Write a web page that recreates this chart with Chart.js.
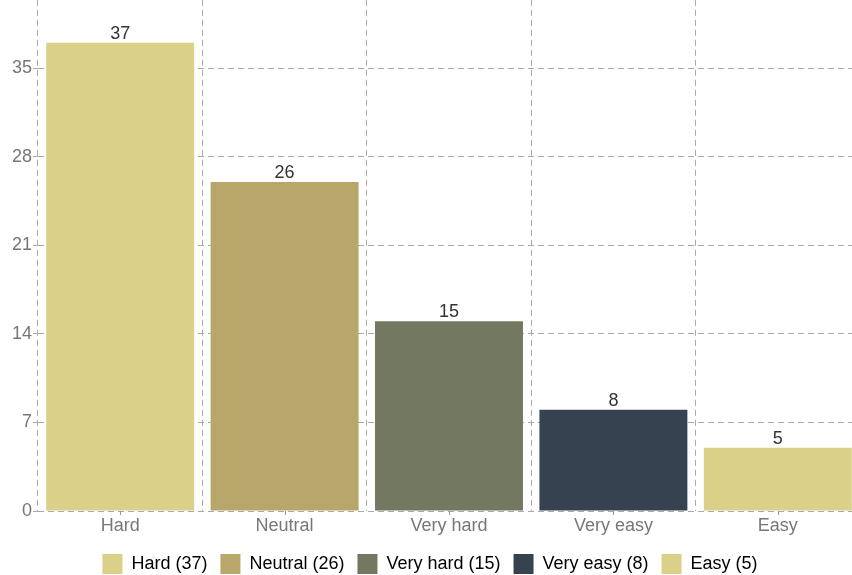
<!DOCTYPE html>
<html lang="en">
<head>
    <meta charset="UTF-8">
    <title>Difficulty</title>
    <script src="https://cdn.jsdelivr.net/npm/chart.js"></script>
    <style>
        body { margin: 0; overflow: hidden; background: white; font-family: "Liberation Sans", Arial, sans-serif; }
        /* o grafico original esta cortado em cima e na direita */
        #box { width: 860px; height: 596px; position: absolute; top: -12px; left: 0; }
    </style>
</head>
<body>
    <div id="box">
        <canvas id="difChart"></canvas>
    </div>

    <script>
        // dados
        const categorias = ['Hard', 'Neutral', 'Very hard', 'Very easy', 'Easy'];
        const valores = [37, 26, 15, 8, 5];
        const cores = ['#dbd088', '#b8a66a', '#737860', '#374250', '#dbd088'];
        const yTicks = [0, 7, 14, 21, 28, 35];

        const fonte = '"Liberation Sans", Arial, sans-serif';

        // rotulos em cima das barras + tracinhos no eixo x
        const extras = {
            id: 'extras',
            afterDatasetsDraw(chart) {
                const ctx = chart.ctx;
                const meta = chart.getDatasetMeta(0);
                ctx.save();
                ctx.fillStyle = '#333';
                ctx.font = '18px ' + fonte;
                ctx.textAlign = 'center';
                ctx.textBaseline = 'alphabetic';
                meta.data.forEach((bar, i) => {
                    ctx.fillText(valores[i], bar.x, bar.y - 4);
                });
                const xs = chart.scales.x;
                const bottom = chart.chartArea.bottom;
                ctx.strokeStyle = '#999';
                ctx.lineWidth = 1;
                categorias.forEach((c, i) => {
                    const px = Math.round(xs.getPixelForValue(i)) + 0.5;
                    ctx.beginPath();
                    ctx.moveTo(px, bottom);
                    ctx.lineTo(px, bottom + 4);
                    ctx.stroke();
                });
                ctx.restore();
            }
        };

        const ctx = document.getElementById('difChart').getContext('2d');
        new Chart(ctx, {
            type: 'bar',
            data: {
                labels: categorias,
                datasets: [{
                    data: valores,
                    backgroundColor: cores,
                    barPercentage: 0.9,
                    categoryPercentage: 1.0
                }]
            },
            options: {
                responsive: true,
                maintainAspectRatio: false,
                animation: false,
                layout: { padding: 0 },
                plugins: {
                    legend: {
                        position: 'bottom',
                        labels: {
                            generateLabels: chart => categorias.map((c, i) => ({
                                text: c + ' (' + valores[i] + ')',
                                fillStyle: cores[i],
                                strokeStyle: cores[i],
                                lineWidth: 0,
                                index: i
                            })),
                            boxWidth: 20,
                            boxHeight: 20,
                            padding: 13,
                            color: '#222',
                            font: { size: 18, family: fonte }
                        }
                    },
                    tooltip: { enabled: false }
                },
                scales: {
                    x: {
                        grid: {
                            offset: true,
                            drawTicks: false,
                            color: '#aaa',
                            lineWidth: 1
                        },
                        border: { display: false, dash: [6, 4] },
                        ticks: {
                            color: '#777',
                            padding: 11,
                            font: { size: 18, family: fonte, lineHeight: 0.444 }
                        }
                    },
                    y: {
                        min: 0,
                        max: 40.4,
                        afterBuildTicks: scale => {
                            scale.ticks = yTicks.map(v => ({ value: v }));
                        },
                        afterFit: scale => { scale.width = 38; },
                        grid: {
                            color: '#aaa',
                            tickLength: 5,
                            lineWidth: 1
                        },
                        border: { display: false, dash: [6, 4] },
                        ticks: {
                            color: '#777',
                            padding: 1,
                            font: { size: 18, family: fonte }
                        }
                    }
                }
            },
            plugins: [extras]
        });
    </script>
</body>
</html>
